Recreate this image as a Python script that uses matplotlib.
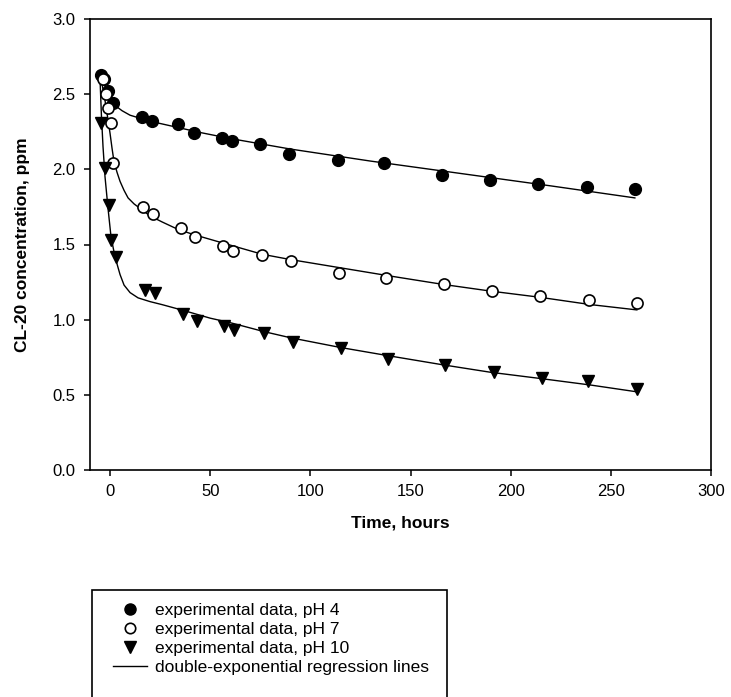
import matplotlib
matplotlib.use("Agg")
import matplotlib.pyplot as plt
from matplotlib.lines import Line2D
from matplotlib.patches import Rectangle

plt.rcParams['font.family'] = ['Liberation Sans', 'DejaVu Sans']

# ---- data ----
t_ph4 = [-4.5, -3.0, -1.0, 1.5, 16, 21, 34, 42, 56, 61, 75, 89.5, 114, 137, 165.5, 189.5, 213.5, 238, 262]
c_ph4 = [2.63, 2.60, 2.52, 2.44, 2.35, 2.32, 2.30, 2.24, 2.21, 2.19, 2.17, 2.10, 2.06, 2.04, 1.96, 1.93, 1.90, 1.88, 1.87]

t_ph7 = [-3.5, -2.0, -1.0, 0.3, 1.5, 16.5, 21.5, 35.5, 42.5, 56.5, 61.5, 76, 90.5, 114.5, 138, 166.5, 190.5, 214.5, 239, 263]
c_ph7 = [2.60, 2.50, 2.41, 2.31, 2.04, 1.75, 1.70, 1.61, 1.55, 1.49, 1.46, 1.43, 1.39, 1.31, 1.28, 1.24, 1.19, 1.16, 1.13, 1.11]

t_ph10 = [-4.3, -2.7, -0.5, 0.7, 3.2, 17.5, 22.5, 36.5, 43.5, 57, 62, 77, 91.5, 115.5, 139, 167, 191.5, 215.5, 238.5, 263]
c_ph10 = [2.31, 2.01, 1.76, 1.53, 1.42, 1.20, 1.18, 1.04, 0.99, 0.96, 0.93, 0.91, 0.85, 0.81, 0.74, 0.70, 0.65, 0.61, 0.59, 0.54]

# regression lines
fit_t_ph4 = [-5, -3, -1, 1, 3, 6, 10, 15, 20, 30, 45, 60, 75, 90, 130, 160, 190, 220, 262]
fit_c_ph4 = [2.63, 2.57, 2.51, 2.46, 2.42, 2.39, 2.36, 2.34, 2.32, 2.29, 2.245, 2.205, 2.17, 2.135, 2.055, 2.0, 1.945, 1.89, 1.81]

fit_t_ph7 = [-5, -3, -1, 0, 1, 2, 3.5, 5, 7, 9, 12, 16, 20, 26, 34, 42, 55, 76, 90, 115, 140, 166, 190, 214, 240, 263]
fit_c_ph7 = [2.63, 2.50, 2.33, 2.24, 2.14, 2.05, 1.98, 1.92, 1.86, 1.81, 1.77, 1.73, 1.69, 1.65, 1.60, 1.565, 1.515, 1.435, 1.40, 1.345, 1.29, 1.235, 1.19, 1.15, 1.10, 1.065]

fit_t_ph10 = [-5, -4.3, -3.5, -2.5, -1, 0.5, 2, 3.5, 5, 7, 10, 14, 20, 26, 37, 50, 60, 77, 90, 115, 139, 166, 190, 214, 240, 263]
fit_c_ph10 = [2.60, 2.36, 2.15, 1.95, 1.74, 1.55, 1.45, 1.37, 1.30, 1.23, 1.18, 1.145, 1.12, 1.10, 1.06, 1.01, 0.98, 0.92, 0.88, 0.815, 0.76, 0.70, 0.65, 0.61, 0.565, 0.52]

xticks = [0, 50, 100, 150, 200, 250, 300]
yticks = [0.0, 0.5, 1.0, 1.5, 2.0, 2.5, 3.0]
legend_labels = ["experimental data, pH 4", "experimental data, pH 7",
                 "experimental data, pH 10", "double-exponential regression lines"]

W, H = 731, 697
fig = plt.figure(figsize=(W / 100, H / 100), dpi=100)
ax = fig.add_axes([90 / W, 1 - 470 / H, (711 - 90) / W, (470 - 19) / H])

lw = 1.0
ax.plot(fit_t_ph4, fit_c_ph4, color='black', lw=lw, zorder=2)
ax.plot(fit_t_ph7, fit_c_ph7, color='black', lw=lw, zorder=2)
ax.plot(fit_t_ph10, fit_c_ph10, color='black', lw=lw, zorder=2)

ax.plot(t_ph4, c_ph4, 'o', color='black', ms=8.5, ls='none', zorder=3)
ax.plot(t_ph7, c_ph7, 'o', mfc='white', mec='black', mew=1.2, ms=8, ls='none', zorder=3)
ax.plot(t_ph10, c_ph10, 'v', color='black', ms=9, ls='none', zorder=3)

ax.set_xlim(-10, 300)
ax.set_ylim(0, 3.0)
ax.set_xticks(xticks)
ax.set_yticks(yticks)
ax.set_xticklabels([str(v) for v in xticks])
ax.set_yticklabels([f"{v:.1f}" for v in yticks])
ax.tick_params(direction='out', length=4.3, width=1.1, labelsize=12, pad=6,
               top=False, right=False)
for s in ax.spines.values():
    s.set_linewidth(1.2)

ax.set_xlabel("Time, hours", fontsize=12.5, fontweight='bold', labelpad=12)
ax.set_ylabel("CL-20 concentration, ppm", fontsize=12.5, fontweight='bold', labelpad=16)

handles = [
    Line2D([], [], marker='o', color='black', ls='none', ms=8),
    Line2D([], [], marker='o', mfc='white', mec='black', mew=1.2, ls='none', ms=7.5),
    Line2D([], [], marker='v', color='black', ls='none', ms=8.5),
    Line2D([], [], color='black', lw=1.0),
]
fig.legend(handles, legend_labels, loc='upper left',
           bbox_to_anchor=(113 / W, 1 - 603 / H), frameon=False,
           fontsize=12.5, handlelength=1.95, handletextpad=0.45,
           labelspacing=0.22, borderpad=0, borderaxespad=0)
fig.patches.append(Rectangle((92 / W, -0.05), (447 - 92) / W, 0.05 + (697 - 590) / H,
                             transform=fig.transFigure, fill=False,
                             edgecolor='black', lw=1.2, clip_on=False))

fig.savefig("out.png", dpi=100)
